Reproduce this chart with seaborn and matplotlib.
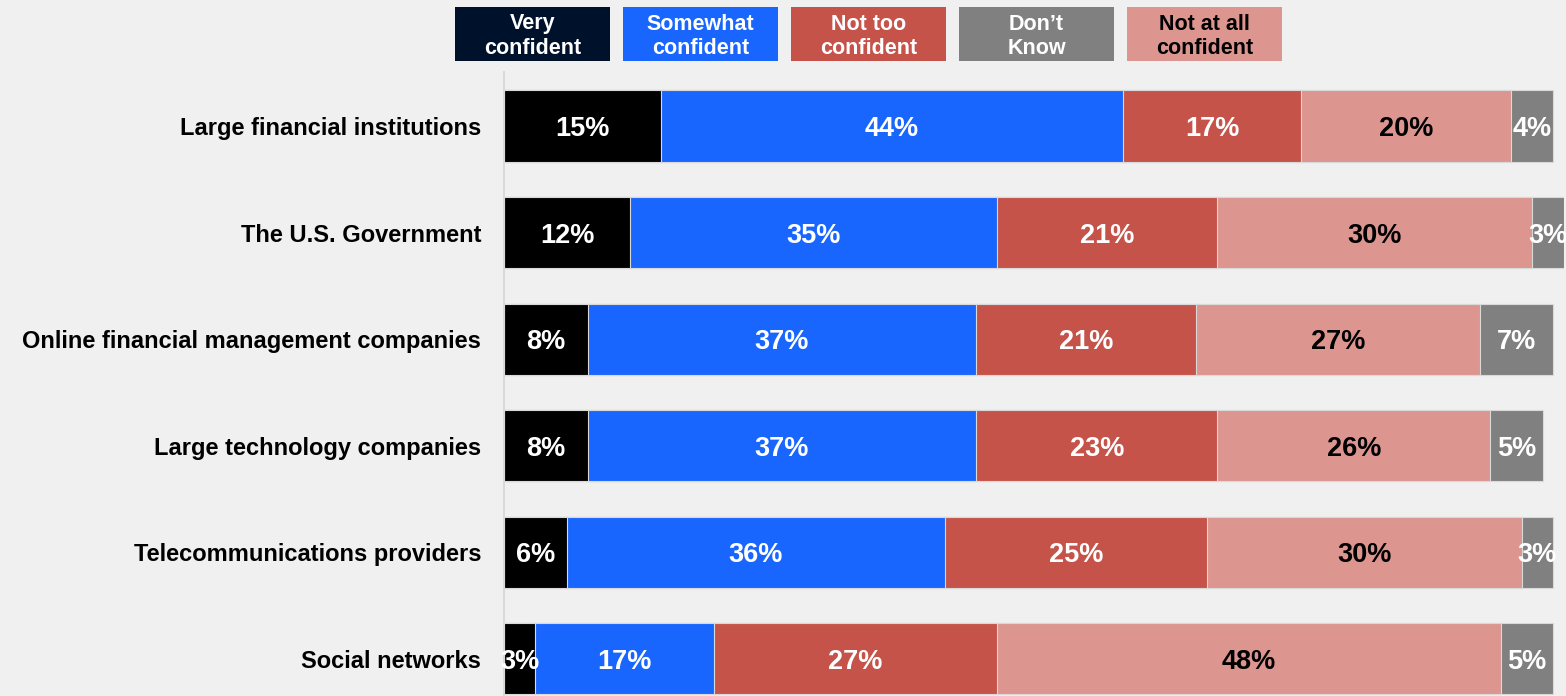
import matplotlib
matplotlib.use("Agg")
import matplotlib.pyplot as plt
from matplotlib.patches import Rectangle
import numpy as np
import pandas as pd
import seaborn as sns

categories = [
    "Large financial institutions",
    "The U.S. Government",
    "Online financial management companies",
    "Large technology companies",
    "Telecommunications providers",
    "Social networks",
]
very_confident = [15, 12, 8, 8, 6, 3]
somewhat_confident = [44, 35, 37, 37, 36, 17]
not_too_confident = [17, 21, 21, 23, 25, 27]
not_at_all_confident = [20, 30, 27, 26, 30, 48]
dont_know = [4, 3, 7, 5, 3, 5]

# stacking order in the bars
series = [
    ("Very confident", very_confident, "#000000", "white"),
    ("Somewhat confident", somewhat_confident, "#1966ff", "white"),
    ("Not too confident", not_too_confident, "#c5534a", "white"),
    ("Not at all confident", not_at_all_confident, "#dc968f", "black"),
    ("Don\u2019t Know", dont_know, "#808080", "white"),
]

# legend order and box colours
legend_items = [
    ("Very\nconfident", "#00112b", "white"),
    ("Somewhat\nconfident", "#1966ff", "white"),
    ("Not too\nconfident", "#c5534a", "white"),
    ("Don\u2019t\nKnow", "#808080", "white"),
    ("Not at all\nconfident", "#dc968f", "black"),
]

BG = "#f0f0f0"
sns.set_theme(style="white")
plt.rcParams["font.family"] = ["Liberation Sans", "DejaVu Sans"]

W, H = 1566, 696
fig = plt.figure(figsize=(W / 100, H / 100), dpi=100, facecolor=BG)
ax = fig.add_axes([504 / W, 0, (1563.5 - 504) / W, 624 / H])
ax.set_facecolor(BG)

df = pd.DataFrame({"category": categories})
starts = np.zeros(len(categories))
cum = []
for name, vals, color, tcolor in series:
    v = np.array(vals, dtype=float)
    cum.append((name, starts.copy(), v, color, tcolor))
    starts = starts + v

# draw cumulative totals from the longest down so each segment shows its own span
for name, left, v, color, tcolor in reversed(cum):
    d = df.copy()
    d["total"] = left + v
    sns.barplot(data=d, x="total", y="category", orient="h", color=color,
                saturation=1, width=0.667, edgecolor="#d9d9d9", linewidth=0.8,
                ax=ax, zorder=2)

# value labels, baseline a little below the bar centre
for name, left, v, color, tcolor in cum:
    for i, (l, w) in enumerate(zip(left, v)):
        ax.text(l + w / 2, i + 0.094, f"{int(w)}%", ha="center", va="baseline",
                fontsize=19.5, fontweight="bold", color=tcolor, zorder=5)

ax.set_xlim(0, 101)
ax.set_ylim(5.35, -0.507)
ax.set_xlabel("")
ax.set_ylabel("")
ax.set_xticks([])
ax.tick_params(axis="y", length=0, pad=16.5)
for lbl in ax.get_yticklabels():
    lbl.set_fontsize(17)
    lbl.set_fontweight("bold")
    lbl.set_color("black")
for s in ["top", "right", "bottom"]:
    ax.spines[s].set_visible(False)
ax.spines["left"].set_color("#d9d9d9")
ax.spines["left"].set_linewidth(1.5)

# legend boxes across the top
box_w, box_h, gap = 155, 54, 13
x0, y0 = 455, 7
baselines = [29.5, 54.5]
for k, (text, color, tcolor) in enumerate(legend_items):
    bx = x0 + k * (box_w + gap)
    fig.patches.append(Rectangle((bx / W, 1 - (y0 + box_h) / H), box_w / W, box_h / H,
                                 transform=fig.transFigure, facecolor=color,
                                 edgecolor="none"))
    for line, by in zip(text.split("\n"), baselines):
        fig.text((bx + box_w / 2) / W, 1 - by / H, line,
                 ha="center", va="baseline", fontsize=15.5, fontweight="bold",
                 color=tcolor)

fig.savefig("out.png", dpi=100, facecolor=BG)
